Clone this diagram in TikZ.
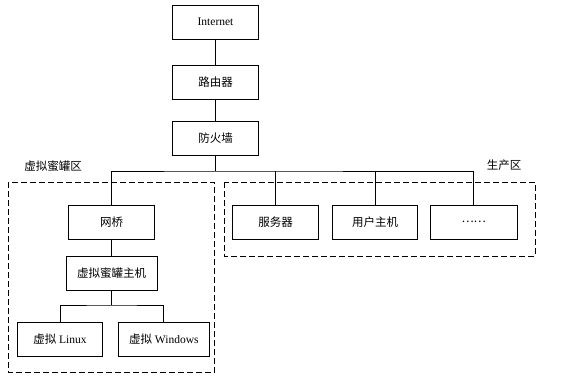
\documentclass[tikz,border=0pt]{standalone}
\usepackage{fontspec}
\setmainfont{Liberation Serif}
\newfontfamily\cjk{Noto Sans CJK SC}
\begin{document}
\begin{tikzpicture}[x=1pt,y=-1pt,
  box/.style={draw, line width=0.8pt, minimum height=34pt, inner sep=0pt,
    font=\fontsize{11.5}{13}\selectfont},
  zone/.style={draw, dash pattern=on 6pt off 3pt, line width=0.8pt},
  conn/.style={line width=0.8pt},
  lbl/.style={font=\cjk\fontsize{11.5}{13}\selectfont}]
\useasboundingbox (0,0) rectangle (568,380);

% zones
\draw[zone] (8.3,182.3) rectangle (214.3,372.7);
\draw[zone] (224.3,182) rectangle (535,256);
\node[lbl] (lz) at (53,166.5) {虚拟蜜罐区};
\node[lbl] (pz) at (504,165) {生产区};

% nodes
\node[box, minimum width=85.5pt] (inet) at (215.5,22) {Internet};
\node[box, minimum width=85.5pt] (router) at (215.5,82) {\cjk 路由器};
\node[box, minimum width=85.5pt] (fw) at (215.5,138.5) {\cjk 防火墙};

\node[box, minimum width=86pt] (bridge) at (111.5,222) {\cjk 网桥};
\node[box, minimum width=91pt] (host) at (111.5,273) {\cjk 虚拟蜜罐主机};
\node[box, minimum width=85pt] (lin) at (60,339.5) {{\cjk 虚拟} Linux};
\node[box, minimum width=91pt] (win) at (163.8,339) {{\cjk 虚拟} Windows};

\node[box, minimum width=86pt] (srv) at (275.7,222) {\cjk 服务器};
\node[box, minimum width=85.4pt] (user) at (375,222) {\cjk 用户主机};
\node[box, minimum width=87pt] (dots) at (473.7,222) {\cjk ……};

% connectors
\coordinate (bus) at (215.5,171);
\coordinate (br) at (111.5,305);
\draw[conn] (inet) -- (router);
\draw[conn] (router) -- (fw);
\draw[conn] (fw) -- (bus);
\draw[conn] (bridge.north) |- (bus) -| (dots.north);
\draw[conn] (srv.north) -- (srv.north |- bus);
\draw[conn] (user.north) -- (user.north |- bus);
\draw[conn] (bridge) -- (host);
\draw[conn] (host) -- (br);
\draw[conn] (lin.north) |- (br) -| (win.north);
\end{tikzpicture}
\end{document}
